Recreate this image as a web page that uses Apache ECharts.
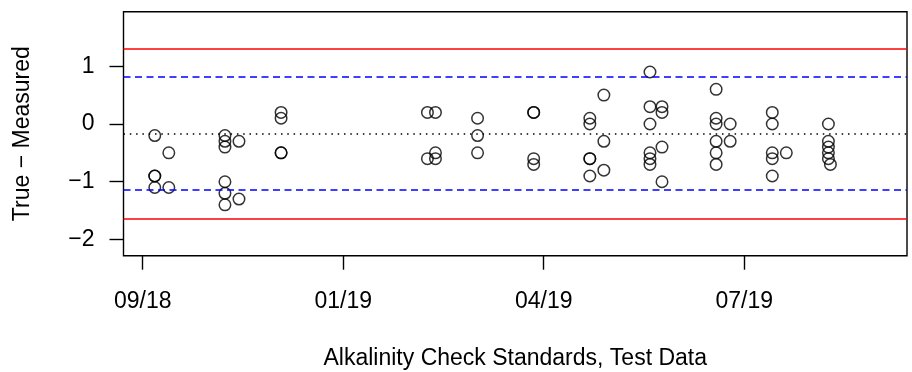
<!DOCTYPE html>
<html>
<head>
<meta charset="utf-8">
<script src="https://cdn.jsdelivr.net/npm/echarts@6/dist/echarts.min.js"></script>
<style>
html,body{margin:0;padding:0;background:#fff;}
#chart{width:912px;height:372px;}
</style>
</head>
<body>
<div id="chart"></div>
<script>
// ---- data ----
const sampleDates = [
  '2018-10-02','2018-10-02','2018-10-02','2018-10-02',
  '2018-10-09','2018-10-09',
  '2018-11-06','2018-11-06','2018-11-06','2018-11-06','2018-11-06','2018-11-06',
  '2018-11-13','2018-11-13',
  '2018-12-04','2018-12-04','2018-12-04','2018-12-04',
  '2019-02-15','2019-02-15',
  '2019-02-19','2019-02-19','2019-02-19',
  '2019-03-12','2019-03-12','2019-03-12',
  '2019-04-09','2019-04-09','2019-04-09','2019-04-09',
  '2019-05-07','2019-05-07','2019-05-07','2019-05-07','2019-05-07',
  '2019-05-14','2019-05-14','2019-05-14',
  '2019-06-06','2019-06-06','2019-06-06','2019-06-06','2019-06-06','2019-06-06',
  '2019-06-12','2019-06-12','2019-06-12','2019-06-12',
  '2019-07-09','2019-07-09','2019-07-09','2019-07-09','2019-07-09','2019-07-09',
  '2019-07-16','2019-07-16',
  '2019-08-06','2019-08-06','2019-08-06','2019-08-06','2019-08-06',
  '2019-08-13',
  '2019-09-03','2019-09-03','2019-09-03','2019-09-03','2019-09-03',
  '2019-09-04'
];
const differences = [
  -0.2, -0.9, -0.9, -1.1,
  -0.5, -1.1,
  -0.2, -0.3, -0.4, -1.0, -1.2, -1.4,
  -0.3, -1.3,
  0.2, 0.1, -0.5, -0.5,
  0.2, -0.6,
  0.2, -0.5, -0.6,
  0.1, -0.2, -0.5,
  0.2, 0.2, -0.6, -0.7,
  0.1, 0.0, -0.6, -0.6, -0.9,
  0.5, -0.3, -0.8,
  0.9, 0.3, 0.0, -0.5, -0.6, -0.7,
  0.3, 0.2, -0.4, -1.0,
  0.6, 0.1, 0.0, -0.3, -0.5, -0.7,
  0.0, -0.3,
  0.2, 0.0, -0.5, -0.6, -0.9,
  -0.5,
  0.0, -0.3, -0.4, -0.5, -0.6,
  -0.7
];
const meanLine = [-0.168];
const warningLimits = [0.82, -1.144];
const controlLimits = [1.30, -1.635];
const xTickDates = ['2018-09-26','2019-01-04','2019-04-14','2019-07-23'];
const xTickLabels = ['09/18','01/19','04/19','07/19'];
const yTicks = [-2, -1, 0, 1];
const xRangeDays = [17790.4, 18181.2];
const yRange = [-2.2805, 1.9445];
const xTitle = 'Alkalinity Check Standards, Test Data';
const yTitle = 'True \u2212 Measured';

// ---- build ----
const DAY = 86400000;
const toDay = s => Math.round(Date.parse(s + 'T00:00:00Z') / DAY);
const points = sampleDates.map((d, i) => [toDay(d), differences[i]]);
const xTickDays = xTickDates.map(toDay);
const FONT = '"Liberation Sans", Arial, Helvetica, sans-serif';
const FS = 23;

const chart = echarts.init(document.getElementById('chart'), null, {renderer: 'canvas'});
const markData = [];
controlLimits.forEach(v => markData.push({yAxis: v, lineStyle: {color: '#ff0000', width: 1.5, type: 'solid'}}));
warningLimits.forEach(v => markData.push({yAxis: v, lineStyle: {color: '#0000ff', width: 1.5, type: [7, 4.5]}}));
meanLine.forEach(v => markData.push({yAxis: v, lineStyle: {color: '#000000', width: 1.5, type: [1.5, 4.8]}}));

chart.setOption({
  animation: false,
  backgroundColor: '#ffffff',
  grid: {
    left: 123.5, right: 5, top: 11.7, bottom: 116.3,
    show: true, borderColor: '#000', borderWidth: 1.4, backgroundColor: 'transparent',
    containLabel: false, outerBoundsMode: 'none'
  },
  xAxis: {
    type: 'value',
    min: xRangeDays[0], max: xRangeDays[1],
    splitLine: {show: false},
    axisLine: {show: false, onZero: false},
    axisTick: {show: true, customValues: xTickDays, length: 14, inside: false, lineStyle: {color: '#000', width: 1.4}},
    axisLabel: {
      show: true, customValues: xTickDays, margin: 34,
      fontFamily: FONT, fontSize: FS, color: '#000',
      formatter: v => xTickLabels[xTickDays.indexOf(Math.round(v))] || ''
    },
    name: xTitle, nameLocation: 'middle', nameGap: 103,
    nameTextStyle: {fontFamily: FONT, fontSize: FS, color: '#000', verticalAlign: 'middle'}
  },
  yAxis: {
    type: 'value',
    min: yRange[0], max: yRange[1],
    splitLine: {show: false},
    axisLine: {show: false, onZero: false},
    axisTick: {show: true, customValues: yTicks, length: 14, lineStyle: {color: '#000', width: 1.4}},
    axisLabel: {
      show: true, customValues: yTicks, margin: 29,
      fontFamily: FONT, fontSize: FS, color: '#000',
      formatter: v => (v < 0 ? '\u2212' + Math.abs(v) : String(v))
    },
    name: yTitle, nameLocation: 'middle', nameGap: 101, nameRotate: 90,
    nameTextStyle: {fontFamily: FONT, fontSize: FS, color: '#000', verticalAlign: 'middle'}
  },
  series: [{
    type: 'scatter',
    data: points,
    symbol: 'circle',
    symbolSize: 11.5,
    itemStyle: {color: 'rgba(0,0,0,0)', borderColor: '#000', borderWidth: 1.5},
    emphasis: {disabled: true},
    silent: true,
    markLine: {
      silent: true,
      symbol: ['none', 'none'],
      label: {show: false},
      emphasis: {disabled: true},
      data: markData
    }
  }]
});
</script>
</body>
</html>
